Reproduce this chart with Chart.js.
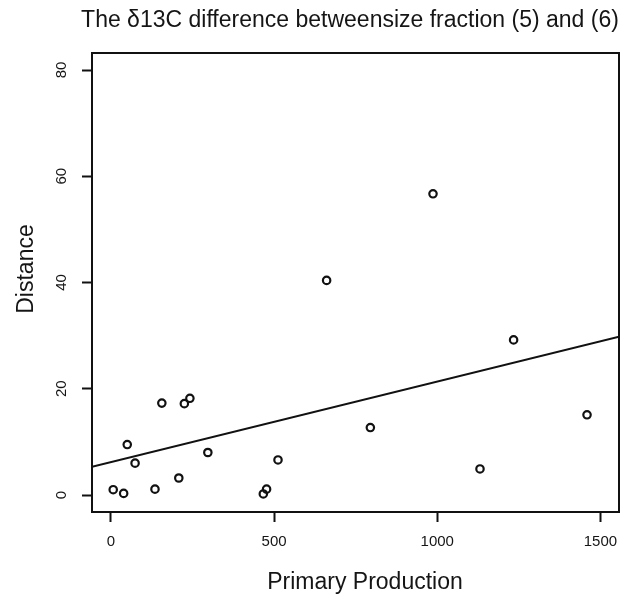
<!DOCTYPE html>
<html>
<head>
<meta charset="utf-8">
<title>δ13C difference vs primary production</title>
<script src="https://cdn.jsdelivr.net/npm/chart.js@4/dist/chart.umd.min.js"></script>
<style>
  html, body { margin: 0; padding: 0; background: #fff; }
  #wrap { width: 632px; height: 597px; position: relative; }
</style>
</head>
<body>
<div id="wrap"><canvas id="scatter"></canvas></div>
<script>
// ── Data ────────────────────────────────────────────
const production = [7, 39, 50, 74, 135, 156, 208, 225, 242, 297, 467, 477, 512, 661, 795, 987, 1131, 1234, 1459];
const distance   = [1.0, 0.3, 9.5, 6.0, 1.1, 17.3, 3.2, 17.2, 18.2, 8.0, 0.2, 1.1, 6.6, 40.4, 12.7, 56.7, 4.9, 29.2, 15.1];

// least-squares fit drawn across the whole plot
const fitIntercept = 6.2;
const fitSlope = 0.01516;

const xTicks = [0, 500, 1000, 1500];
const yTicks = [0, 20, 40, 60, 80];
const xRange = [-58, 1557];
const yRange = [-3.2, 83.2];

const titleText = 'The δ13C difference betweensize fraction (5) and (6)';
const xTitle = 'Primary Production';
const yTitle = 'Distance';

const FONT = '"Liberation Sans", Arial, Helvetica, sans-serif';
const INK = '#111';

// ── Frame, labels and titles ────────────────────────
const framePlugin = {
  id: 'frame',
  afterDraw(chart) {
    const { ctx, chartArea: a, scales } = chart;
    ctx.save();
    ctx.strokeStyle = INK;
    ctx.lineWidth = 2;
    ctx.strokeRect(a.left, a.top, a.right - a.left, a.bottom - a.top);

    ctx.fillStyle = '#151515';
    ctx.font = '15px ' + FONT;
    ctx.textAlign = 'center';
    ctx.textBaseline = 'middle';
    xTicks.forEach(v => {
      ctx.fillText(String(v), scales.x.getPixelForValue(v), a.bottom + 30);
    });
    yTicks.forEach(v => {
      ctx.save();
      ctx.translate(a.left - 30, scales.y.getPixelForValue(v));
      ctx.rotate(-Math.PI / 2);
      ctx.fillText(String(v), 0, 0);
      ctx.restore();
    });

    ctx.font = '23px ' + FONT;
    ctx.textBaseline = 'alphabetic';
    ctx.fillText(xTitle, 365, 589);
    ctx.save();
    ctx.translate(33, 269);
    ctx.rotate(-Math.PI / 2);
    ctx.fillText(yTitle, 0, 0);
    ctx.restore();

    ctx.font = '23px ' + FONT;
    ctx.fillText(titleText, 350, 27);
    ctx.restore();
  },
};

// ── Chart ───────────────────────────────────────────
const ctx = document.getElementById('scatter').getContext('2d');

new Chart(ctx, {
  type: 'scatter',
  data: {
    datasets: [
      {
        label: 'Distance',
        data: production.map((x, i) => ({ x, y: distance[i] })),
        pointStyle: 'circle',
        pointRadius: 3.7,
        pointHoverRadius: 3.7,
        pointBorderWidth: 2.2,
        pointBorderColor: INK,
        pointBackgroundColor: 'rgba(0,0,0,0)',
      },
      {
        type: 'line',
        label: 'Fit',
        data: xRange.map(x => ({ x, y: fitIntercept + fitSlope * x })),
        borderColor: INK,
        borderWidth: 2,
        pointRadius: 0,
        fill: false,
      },
    ],
  },
  options: {
    responsive: true,
    maintainAspectRatio: false,
    animation: false,
    events: [],
    layout: { padding: { top: 53, right: 13, bottom: 0, left: 0 } },
    plugins: {
      legend: { display: false },
      tooltip: { enabled: false },
      title: { display: false },
    },
    scales: {
      x: {
        type: 'linear',
        min: xRange[0],
        max: xRange[1],
        afterBuildTicks: axis => { axis.ticks = xTicks.map(value => ({ value })); },
        afterFit: axis => { axis.height = 85; },
        border: { display: false },
        grid: {
          drawOnChartArea: false,
          drawTicks: true,
          tickLength: 10,
          tickWidth: 2,
          tickColor: INK,
        },
        ticks: { display: false },
      },
      y: {
        type: 'linear',
        min: yRange[0],
        max: yRange[1],
        afterBuildTicks: axis => { axis.ticks = yTicks.map(value => ({ value })); },
        afterFit: axis => { axis.width = 92; },
        border: { display: false },
        grid: {
          drawOnChartArea: false,
          drawTicks: true,
          tickLength: 10,
          tickWidth: 2,
          tickColor: INK,
        },
        ticks: { display: false },
      },
    },
  },
  plugins: [framePlugin],
});
</script>
</body>
</html>
